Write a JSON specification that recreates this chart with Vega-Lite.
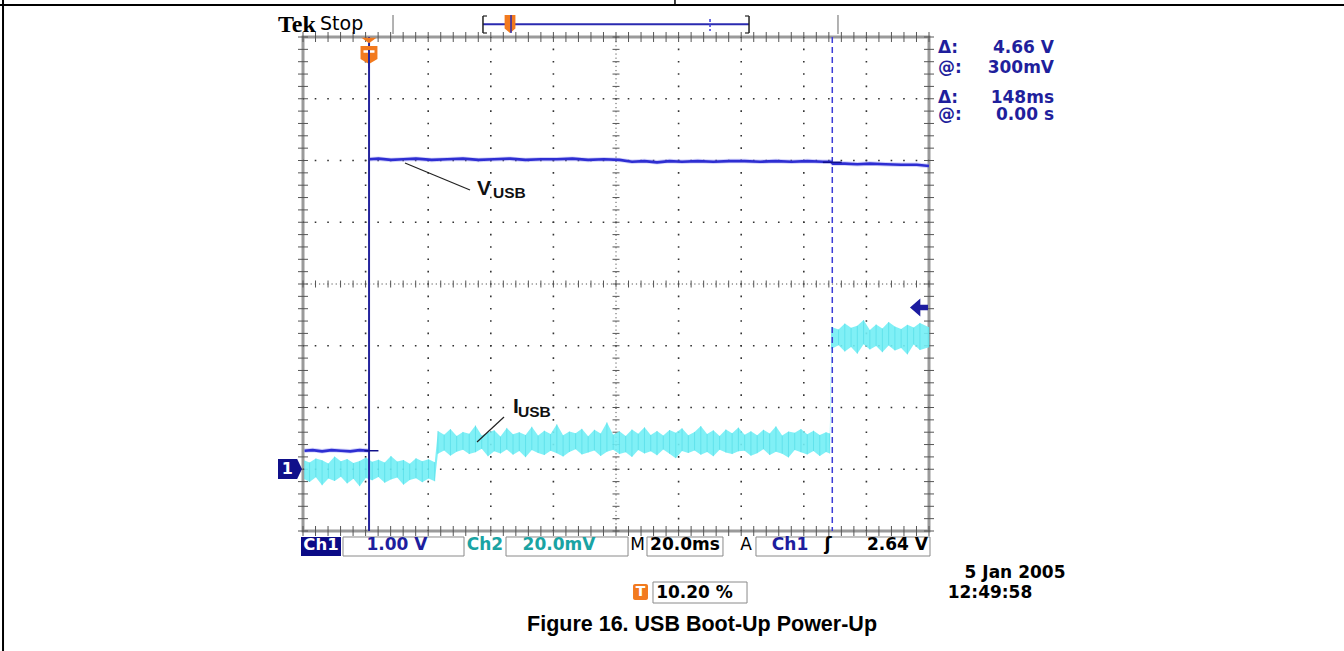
{
"$schema": "https://vega.github.io/schema/vega-lite/v6.json",
"width": 626, "height": 494,
"autosize": {"type": "none"},
"padding": {"left": 303, "top": 37, "right": 415, "bottom": 120},
"background": "white",
"config": {"view": {"stroke": "#9a9a9a", "strokeWidth": 3}, "text": {"font": "DejaVu Sans", "fontSize": 17, "fontWeight": "bold", "baseline": "middle"}},
"datasets": {
"one": [{}],
"gvx": [{"d":1},{"d":2},{"d":3},{"d":4},{"d":6},{"d":7},{"d":8},{"d":9}],
"gvy": [{"d":1},{"d":2},{"d":3},{"d":5},{"d":6},{"d":7}],
"gx": [{"d":0},{"d":0.2},{"d":0.4},{"d":0.6},{"d":0.8},{"d":1},{"d":1.2},{"d":1.4},{"d":1.6},{"d":1.8},{"d":2},{"d":2.2},{"d":2.4},{"d":2.6},{"d":2.8},{"d":3},{"d":3.2},{"d":3.4},{"d":3.6},{"d":3.8},{"d":4},{"d":4.2},{"d":4.4},{"d":4.6},{"d":4.8},{"d":5},{"d":5.2},{"d":5.4},{"d":5.6},{"d":5.8},{"d":6},{"d":6.2},{"d":6.4},{"d":6.6},{"d":6.8},{"d":7},{"d":7.2},{"d":7.4},{"d":7.6},{"d":7.8},{"d":8},{"d":8.2},{"d":8.4},{"d":8.6},{"d":8.8},{"d":9},{"d":9.2},{"d":9.4},{"d":9.6},{"d":9.8},{"d":10}],
"gy": [{"d":0},{"d":0.2},{"d":0.4},{"d":0.6},{"d":0.8},{"d":1},{"d":1.2},{"d":1.4},{"d":1.6},{"d":1.8},{"d":2},{"d":2.2},{"d":2.4},{"d":2.6},{"d":2.8},{"d":3},{"d":3.2},{"d":3.4},{"d":3.6},{"d":3.8},{"d":4},{"d":4.2},{"d":4.4},{"d":4.6},{"d":4.8},{"d":5},{"d":5.2},{"d":5.4},{"d":5.6},{"d":5.8},{"d":6},{"d":6.2},{"d":6.4},{"d":6.6},{"d":6.8},{"d":7},{"d":7.2},{"d":7.4},{"d":7.6},{"d":7.8},{"d":8}],
"ch1": [{"seg":"pre","t":-20.6,"v":0.30},{"seg":"pre","t":-18,"v":0.31},{"seg":"pre","t":-15,"v":0.29},{"seg":"pre","t":-12,"v":0.31},{"seg":"pre","t":-9,"v":0.30},{"seg":"pre","t":-6,"v":0.29},{"seg":"pre","t":-3,"v":0.31},{"seg":"pre","t":0,"v":0.30},{"seg":"post","t":0.05,"v":5.02},{"seg":"post","t":3,"v":5.03},{"seg":"post","t":7,"v":5.01},{"seg":"post","t":11,"v":5.02},{"seg":"post","t":15,"v":5.03},{"seg":"post","t":20,"v":5.01},{"seg":"post","t":25,"v":5.02},{"seg":"post","t":30,"v":5.03},{"seg":"post","t":35,"v":5.01},{"seg":"post","t":40,"v":5.02},{"seg":"post","t":45,"v":5.03},{"seg":"post","t":50,"v":5.01},{"seg":"post","t":55,"v":5.02},{"seg":"post","t":60,"v":5.02},{"seg":"post","t":65,"v":5.03},{"seg":"post","t":70,"v":5.01},{"seg":"post","t":75,"v":5.02},{"seg":"post","t":80,"v":5.01},{"seg":"post","t":84,"v":4.98},{"seg":"post","t":88,"v":4.99},{"seg":"post","t":92,"v":4.97},{"seg":"post","t":96,"v":4.99},{"seg":"post","t":100,"v":4.98},{"seg":"post","t":105,"v":4.99},{"seg":"post","t":110,"v":4.98},{"seg":"post","t":115,"v":4.99},{"seg":"post","t":120,"v":4.99},{"seg":"post","t":125,"v":4.98},{"seg":"post","t":130,"v":4.99},{"seg":"post","t":135,"v":4.98},{"seg":"post","t":140,"v":4.99},{"seg":"post","t":145,"v":4.98},{"seg":"post","t":147.6,"v":4.98},{"seg":"post","t":148.2,"v":4.95},{"seg":"post","t":152,"v":4.95},{"seg":"post","t":156,"v":4.94},{"seg":"post","t":160,"v":4.95},{"seg":"post","t":165,"v":4.94},{"seg":"post","t":170,"v":4.93},{"seg":"post","t":175,"v":4.93},{"seg":"post","t":178.9,"v":4.91}],
"ch2": [{"t":-20.6,"lo":-3.2,"hi":2.8},{"t":-19,"lo":-4.1,"hi":2.2},{"t":-17,"lo":-2.6,"hi":3.5},{"t":-15,"lo":-5.2,"hi":2.9},{"t":-13,"lo":-3.0,"hi":1.9},{"t":-11,"lo":-3.8,"hi":4.1},{"t":-9,"lo":-2.4,"hi":2.6},{"t":-7,"lo":-4.6,"hi":3.3},{"t":-5,"lo":-3.1,"hi":2.0},{"t":-3,"lo":-5.5,"hi":2.7},{"t":-1,"lo":-2.8,"hi":3.8},{"t":1,"lo":-3.6,"hi":2.4},{"t":3,"lo":-2.5,"hi":3.1},{"t":5,"lo":-4.4,"hi":2.2},{"t":7,"lo":-3.3,"hi":4.3},{"t":9,"lo":-2.7,"hi":2.5},{"t":11,"lo":-5.0,"hi":3.0},{"t":13,"lo":-3.5,"hi":1.8},{"t":15,"lo":-2.9,"hi":3.6},{"t":17,"lo":-4.2,"hi":2.6},{"t":19,"lo":-3.0,"hi":3.2},{"t":21,"lo":-3.9,"hi":2.3},
{"t":22,"lo":5.0,"hi":12.4},{"t":24,"lo":6.1,"hi":11.2},{"t":26,"lo":4.4,"hi":13.0},{"t":28,"lo":5.7,"hi":10.8},{"t":30,"lo":6.3,"hi":12.1},{"t":32,"lo":4.9,"hi":11.5},{"t":34,"lo":5.5,"hi":14.2},{"t":36,"lo":6.6,"hi":10.9},{"t":38,"lo":4.2,"hi":11.9},{"t":40,"lo":5.8,"hi":12.6},{"t":42,"lo":5.1,"hi":10.6},{"t":44,"lo":6.4,"hi":13.4},{"t":46,"lo":4.7,"hi":11.3},{"t":48,"lo":5.9,"hi":12.0},{"t":50,"lo":3.9,"hi":11.1},{"t":52,"lo":6.2,"hi":13.8},{"t":54,"lo":5.3,"hi":10.9},{"t":56,"lo":4.6,"hi":12.5},{"t":58,"lo":6.0,"hi":11.4},{"t":60,"lo":5.2,"hi":14.6},{"t":62,"lo":4.1,"hi":11.0},{"t":64,"lo":5.6,"hi":12.2},{"t":66,"lo":6.5,"hi":11.7},{"t":68,"lo":4.8,"hi":13.1},{"t":70,"lo":5.4,"hi":10.7},{"t":72,"lo":6.1,"hi":12.8},{"t":74,"lo":4.3,"hi":11.6},{"t":76,"lo":5.7,"hi":15.2},{"t":78,"lo":6.3,"hi":11.2},{"t":80,"lo":4.9,"hi":12.3},{"t":82,"lo":5.5,"hi":10.8},{"t":84,"lo":4.0,"hi":12.9},{"t":86,"lo":6.2,"hi":11.5},{"t":88,"lo":5.1,"hi":13.6},{"t":90,"lo":5.8,"hi":11.1},{"t":92,"lo":4.5,"hi":12.4},{"t":94,"lo":6.4,"hi":10.9},{"t":96,"lo":5.0,"hi":12.7},{"t":98,"lo":3.6,"hi":11.8},{"t":100,"lo":5.9,"hi":13.3},{"t":102,"lo":5.3,"hi":11.0},{"t":104,"lo":6.1,"hi":12.1},{"t":106,"lo":4.7,"hi":14.0},{"t":108,"lo":5.6,"hi":11.4},{"t":110,"lo":4.2,"hi":12.6},{"t":112,"lo":6.3,"hi":10.8},{"t":114,"lo":5.4,"hi":12.9},{"t":116,"lo":4.9,"hi":11.7},{"t":118,"lo":5.8,"hi":13.5},{"t":120,"lo":6.0,"hi":11.2},{"t":122,"lo":4.4,"hi":12.3},{"t":124,"lo":5.2,"hi":11.0},{"t":126,"lo":6.5,"hi":12.8},{"t":128,"lo":4.6,"hi":11.6},{"t":130,"lo":5.7,"hi":13.9},{"t":132,"lo":5.0,"hi":10.9},{"t":134,"lo":3.8,"hi":12.2},{"t":136,"lo":6.2,"hi":11.8},{"t":138,"lo":5.5,"hi":13.0},{"t":140,"lo":4.8,"hi":11.3},{"t":142,"lo":5.9,"hi":12.5},{"t":144,"lo":4.3,"hi":11.1},{"t":146,"lo":5.6,"hi":12.0},{"t":147.2,"lo":5.1,"hi":11.6},
{"t":147.8,"lo":39.0,"hi":46.1},{"t":150,"lo":40.2,"hi":45.3},{"t":152,"lo":38.1,"hi":47.2},{"t":154,"lo":39.6,"hi":45.8},{"t":156,"lo":37.4,"hi":46.5},{"t":158,"lo":40.5,"hi":48.3},{"t":160,"lo":38.8,"hi":45.1},{"t":162,"lo":39.9,"hi":46.9},{"t":164,"lo":37.9,"hi":45.6},{"t":166,"lo":40.1,"hi":47.7},{"t":168,"lo":38.5,"hi":46.2},{"t":170,"lo":39.3,"hi":45.4},{"t":172,"lo":37.2,"hi":46.8},{"t":174,"lo":40.4,"hi":45.9},{"t":176,"lo":38.6,"hi":47.4},{"t":178.9,"lo":39.5,"hi":46.0}]
},
"resolve": {"scale": {"x": "independent", "y": "independent"}},
"layer": [
{"layer": [
 {"data": {"name": "one"}, "mark": {"type": "rule", "color": "#555", "strokeWidth": 1, "strokeDash": [1.2, 2.92]}, "encoding": {"x": {"datum": 5, "scale": {"domain": [0, 10], "nice": false, "zero": false}, "axis": null}}},
 {"data": {"name": "one"}, "mark": {"type": "rule", "color": "#555", "strokeWidth": 1, "strokeDash": [1.2, 2.97]}, "encoding": {"y": {"datum": 4, "scale": {"domain": [0, 8], "nice": false, "zero": false}, "axis": null}}},
 {"data": {"name": "gvx"}, "mark": {"type": "rule", "color": "#333", "strokeWidth": 1.6, "strokeDash": [1.6, 10.75], "strokeDashOffset": 0.8}, "encoding": {"x": {"field": "d", "type": "quantitative", "axis": null}}},
 {"data": {"name": "gvy"}, "mark": {"type": "rule", "color": "#333", "strokeWidth": 1.6, "strokeDash": [1.6, 10.92], "strokeDashOffset": 0.8}, "encoding": {"y": {"field": "d", "type": "quantitative", "axis": null}}},
 {"data": {"name": "gx"}, "mark": {"type": "tick", "orient": "vertical", "size": 10, "thickness": 1, "color": "#555", "opacity": 1}, "encoding": {"x": {"field": "d", "type": "quantitative", "axis": null}, "y": {"datum": 0, "axis": null}}},
 {"data": {"name": "gx"}, "mark": {"type": "tick", "orient": "vertical", "size": 10, "thickness": 1, "color": "#555", "opacity": 1}, "encoding": {"x": {"field": "d", "type": "quantitative", "axis": null}, "y": {"datum": 8, "axis": null}}},
 {"data": {"name": "gx"}, "mark": {"type": "tick", "orient": "vertical", "size": 7, "thickness": 1, "color": "#555", "opacity": 1}, "encoding": {"x": {"field": "d", "type": "quantitative", "axis": null}, "y": {"datum": 4, "axis": null}}},
 {"data": {"name": "gy"}, "mark": {"type": "tick", "orient": "horizontal", "size": 10, "thickness": 1, "color": "#555", "opacity": 1}, "encoding": {"y": {"field": "d", "type": "quantitative", "axis": null}, "x": {"datum": 0, "axis": null}}},
 {"data": {"name": "gy"}, "mark": {"type": "tick", "orient": "horizontal", "size": 10, "thickness": 1, "color": "#555", "opacity": 1}, "encoding": {"y": {"field": "d", "type": "quantitative", "axis": null}, "x": {"datum": 10, "axis": null}}},
 {"data": {"name": "gy"}, "mark": {"type": "tick", "orient": "horizontal", "size": 7, "thickness": 1, "color": "#555", "opacity": 1}, "encoding": {"y": {"field": "d", "type": "quantitative", "axis": null}, "x": {"datum": 5, "axis": null}}}
]},
{"data": {"name": "ch2"}, "layer": [
 {"mark": {"type": "area", "color": "#72eef5", "opacity": 0.9}, "encoding": {"x": {"field": "t", "type": "quantitative", "scale": {"domain": [-21.1, 178.9], "nice": false, "zero": false}, "axis": null}, "y": {"field": "lo", "type": "quantitative", "scale": {"domain": [-20, 140], "nice": false, "zero": false}, "axis": null}, "y2": {"field": "hi"}}},
 {"mark": {"type": "rule", "color": "#3cd2e0", "strokeWidth": 1, "opacity": 0.45}, "encoding": {"x": {"field": "t", "type": "quantitative", "axis": null}, "y": {"field": "lo", "type": "quantitative", "axis": null}, "y2": {"field": "hi"}}}
]},
{"layer": [
 {"data": {"name": "ch1"}, "mark": {"type": "line", "color": "#8080f0", "strokeWidth": 4.5, "opacity": 0.35}, "encoding": {"x": {"field": "t", "type": "quantitative", "scale": {"domain": [-21.1, 178.9], "nice": false, "zero": false}, "axis": null}, "y": {"field": "v", "type": "quantitative", "scale": {"domain": [-1, 7], "nice": false, "zero": false}, "axis": null}, "detail": {"field": "seg", "type": "nominal"}}},
 {"data": {"name": "ch1"}, "mark": {"type": "line", "color": "#2e2ed2", "strokeWidth": 2.6}, "encoding": {"x": {"field": "t", "type": "quantitative", "axis": null}, "y": {"field": "v", "type": "quantitative", "axis": null}, "detail": {"field": "seg", "type": "nominal"}}},
 {"data": {"name": "one"}, "mark": {"type": "rule", "color": "#24249c", "strokeWidth": 2}, "encoding": {"x": {"datum": 0, "axis": null}}},
 {"data": {"name": "one"}, "mark": {"type": "rule", "color": "#3c3cd6", "strokeWidth": 1.5, "strokeDash": [6, 4]}, "encoding": {"x": {"datum": 148, "axis": null}}},
 {"data": {"name": "one"}, "mark": {"type": "rule", "color": "#10108a", "strokeWidth": 1.5}, "encoding": {"x": {"datum": -1.5, "axis": null}, "x2": {"datum": 3}, "y": {"datum": 0.3, "axis": null}}},
 {"data": {"name": "one"}, "mark": {"type": "rule", "color": "#10108a", "strokeWidth": 1.5}, "encoding": {"x": {"datum": 145, "axis": null}, "x2": {"datum": 151}, "y": {"datum": 4.97, "axis": null}}}
]},
{"data": {"name": "one"}, "layer": [
 {"mark": {"type": "rule", "color": "#000", "strokeWidth": 2}, "encoding": {"x": {"datum": -4.9, "scale": {"domain": [0, 10], "nice": false, "zero": false}, "axis": null}, "x2": {"datum": 17}, "y": {"datum": 8.518, "scale": {"domain": [0, 8], "nice": false, "zero": false}, "axis": null}}},
 {"mark": {"type": "rule", "color": "#000", "strokeWidth": 2}, "encoding": {"x": {"datum": -4.792, "axis": null}, "y": {"datum": 8.62, "axis": null}, "y2": {"datum": -2.0}}},
 {"mark": {"type": "rule", "color": "#000", "strokeWidth": 1.5}, "encoding": {"x": {"datum": 5.942, "axis": null}, "y": {"datum": 8.62, "axis": null}, "y2": {"datum": 8.518}}},
 {"mark": {"type": "rule", "color": "#999", "strokeWidth": 1.5}, "encoding": {"x": {"datum": 1.438, "axis": null}, "y": {"datum": 8.356, "axis": null}, "y2": {"datum": 8.049}}},
 {"mark": {"type": "rule", "color": "#999", "strokeWidth": 1.5}, "encoding": {"x": {"datum": 8.546, "axis": null}, "y": {"datum": 8.356, "axis": null}, "y2": {"datum": 8.049}}},
 {"mark": {"type": "rule", "color": "#2a2ab0", "strokeWidth": 2}, "encoding": {"x": {"datum": 2.875, "axis": null}, "x2": {"datum": 7.125}, "y": {"datum": 8.206, "axis": null}}},
 {"mark": {"type": "rule", "color": "#222", "strokeWidth": 1.5}, "encoding": {"x": {"datum": 2.875, "axis": null}, "y": {"datum": 8.340, "axis": null}, "y2": {"datum": 8.065}}},
 {"mark": {"type": "rule", "color": "#222", "strokeWidth": 1.5}, "encoding": {"x": {"datum": 7.125, "axis": null}, "y": {"datum": 8.340, "axis": null}, "y2": {"datum": 8.065}}},
 {"mark": {"type": "rule", "color": "#222", "strokeWidth": 1.2}, "encoding": {"x": {"datum": 2.875, "axis": null}, "x2": {"datum": 2.939}, "y": {"datum": 8.340, "axis": null}}},
 {"mark": {"type": "rule", "color": "#222", "strokeWidth": 1.2}, "encoding": {"x": {"datum": 2.875, "axis": null}, "x2": {"datum": 2.939}, "y": {"datum": 8.065, "axis": null}}},
 {"mark": {"type": "rule", "color": "#222", "strokeWidth": 1.2}, "encoding": {"x": {"datum": 7.061, "axis": null}, "x2": {"datum": 7.125}, "y": {"datum": 8.340, "axis": null}}},
 {"mark": {"type": "rule", "color": "#222", "strokeWidth": 1.2}, "encoding": {"x": {"datum": 7.061, "axis": null}, "x2": {"datum": 7.125}, "y": {"datum": 8.065, "axis": null}}},
 {"mark": {"type": "rule", "color": "#3c3cd6", "strokeWidth": 1.5, "strokeDash": [3, 2]}, "encoding": {"x": {"datum": 6.502, "axis": null}, "y": {"datum": 8.291, "axis": null}, "y2": {"datum": 8.097}}},
 {"mark": {"type": "point", "shape": "M-0.6,-1H0.6V0.5L0,1L-0.6,0.5Z", "size": 324, "filled": true, "color": "#f27a1e", "opacity": 1}, "encoding": {"x": {"datum": 3.307, "axis": null}, "y": {"datum": 8.211, "axis": null}}},
 {"mark": {"type": "rule", "color": "#2a2ab0", "strokeWidth": 1.5}, "encoding": {"x": {"datum": 3.323, "axis": null}, "y": {"datum": 8.356, "axis": null}, "y2": {"datum": 8.065}}},
 {"mark": {"type": "text", "text": "Tek", "font": "Liberation Serif", "fontWeight": "bold", "fontSize": 24, "align": "left", "baseline": "alphabetic", "color": "#000"}, "encoding": {"x": {"datum": -0.399, "axis": null}, "y": {"datum": 8.081, "axis": null}}},
 {"mark": {"type": "text", "text": "Stop", "fontSize": 19, "fontWeight": "normal", "align": "left", "baseline": "alphabetic", "color": "#000"}, "encoding": {"x": {"datum": 0.272, "axis": null}, "y": {"datum": 8.113, "axis": null}}},
 {"mark": {"type": "point", "shape": "M-1,-0.36H1L0,0.36Z", "size": 225, "filled": true, "color": "#f27a1e", "opacity": 1}, "encoding": {"x": {"datum": 1.054, "axis": null}, "y": {"datum": 7.943, "axis": null}}},
 {"mark": {"type": "point", "shape": "M-0.94,-1H0.94V0.45L0,1L-0.94,0.45Z", "size": 324, "filled": true, "color": "#f27a1e", "opacity": 1}, "encoding": {"x": {"datum": 1.054, "axis": null}, "y": {"datum": 7.709, "axis": null}}},
 {"mark": {"type": "rule", "color": "#ffffff", "strokeWidth": 2.5}, "encoding": {"x": {"datum": 0.966, "axis": null}, "x2": {"datum": 1.142}, "y": {"datum": 7.765, "axis": null}}},
 {"mark": {"type": "rule", "color": "#24249c", "strokeWidth": 2}, "encoding": {"x": {"datum": 1.054, "axis": null}, "y": {"datum": 7.79, "axis": null}, "y2": {"datum": 7.5}}},
 {"mark": {"type": "text", "text": "Δ:", "align": "left", "color": "#1f1f9c"}, "encoding": {"x": {"datum": 10.144, "axis": null}, "y": {"datum": 7.822, "axis": null}}},
 {"mark": {"type": "text", "text": "@:", "align": "left", "color": "#1f1f9c"}, "encoding": {"x": {"datum": 10.144, "axis": null}, "y": {"datum": 7.506, "axis": null}}},
 {"mark": {"type": "text", "text": "Δ:", "align": "left", "color": "#1f1f9c"}, "encoding": {"x": {"datum": 10.144, "axis": null}, "y": {"datum": 7.020, "axis": null}}},
 {"mark": {"type": "text", "text": "@:", "align": "left", "color": "#1f1f9c"}, "encoding": {"x": {"datum": 10.144, "axis": null}, "y": {"datum": 6.737, "axis": null}}},
 {"mark": {"type": "text", "text": "4.66 V", "align": "right", "color": "#1f1f9c"}, "encoding": {"x": {"datum": 11.997, "axis": null}, "y": {"datum": 7.822, "axis": null}}},
 {"mark": {"type": "text", "text": "300mV", "align": "right", "color": "#1f1f9c"}, "encoding": {"x": {"datum": 11.997, "axis": null}, "y": {"datum": 7.506, "axis": null}}},
 {"mark": {"type": "text", "text": "148ms", "align": "right", "color": "#1f1f9c"}, "encoding": {"x": {"datum": 11.997, "axis": null}, "y": {"datum": 7.020, "axis": null}}},
 {"mark": {"type": "text", "text": "0.00 s", "align": "right", "color": "#1f1f9c"}, "encoding": {"x": {"datum": 11.997, "axis": null}, "y": {"datum": 6.737, "axis": null}}},
 {"mark": {"type": "point", "shape": "M-1,0L0.15,-1V-0.3H1V0.3H0.15V1Z", "size": 324, "filled": true, "color": "#1c1ca0", "opacity": 1}, "encoding": {"x": {"datum": 9.84, "axis": null}, "y": {"datum": 3.619, "axis": null}}},
 {"mark": {"type": "point", "shape": "M-1,-0.83H0.6L1,0L0.6,0.83H-1Z", "size": 576, "filled": true, "color": "#10108a", "opacity": 1}, "encoding": {"x": {"datum": -0.208, "axis": null}, "y": {"datum": 1.004, "axis": null}}},
 {"mark": {"type": "text", "text": "1", "fontSize": 16, "color": "#ffffff"}, "encoding": {"x": {"datum": -0.25, "axis": null}, "y": {"datum": 1.004, "axis": null}}},
 {"mark": {"type": "rule", "color": "#222", "strokeWidth": 1.2}, "encoding": {"x": {"datum": 1.629, "axis": null}, "x2": {"datum": 2.668}, "y": {"datum": 5.960, "axis": null}, "y2": {"datum": 5.522}}},
 {"mark": {"type": "text", "text": "V", "font": "Liberation Sans", "fontSize": 21, "align": "left", "baseline": "alphabetic", "color": "#111"}, "encoding": {"x": {"datum": 2.780, "axis": null}, "y": {"datum": 5.441, "axis": null}}},
 {"mark": {"type": "text", "text": "USB", "font": "Liberation Sans", "fontSize": 15.5, "align": "left", "baseline": "alphabetic", "color": "#111"}, "encoding": {"x": {"datum": 3.035, "axis": null}, "y": {"datum": 5.393, "axis": null}}},
 {"mark": {"type": "rule", "color": "#222", "strokeWidth": 1.2}, "encoding": {"x": {"datum": 3.211, "axis": null}, "x2": {"datum": 2.780}, "y": {"datum": 1.846, "axis": null}, "y2": {"datum": 1.441}}},
 {"mark": {"type": "text", "text": "I", "font": "Liberation Sans", "fontSize": 21, "align": "left", "baseline": "alphabetic", "color": "#111"}, "encoding": {"x": {"datum": 3.355, "axis": null}, "y": {"datum": 1.911, "axis": null}}},
 {"mark": {"type": "text", "text": "USB", "font": "Liberation Sans", "fontSize": 15.5, "align": "left", "baseline": "alphabetic", "color": "#111"}, "encoding": {"x": {"datum": 3.435, "axis": null}, "y": {"datum": 1.846, "axis": null}}},
 {"mark": {"type": "rect", "fill": "#0b0b86"}, "encoding": {"x": {"datum": -0.032, "axis": null}, "x2": {"datum": 0.607}, "y": {"datum": -0.097, "axis": null}, "y2": {"datum": -0.405}}},
 {"mark": {"type": "rect", "fill": "#ffffff", "stroke": "#8a8a8a", "strokeWidth": 1}, "encoding": {"x": {"datum": 0.639, "axis": null}, "x2": {"datum": 2.572}, "y": {"datum": -0.097, "axis": null}, "y2": {"datum": -0.405}}},
 {"mark": {"type": "rect", "fill": "#ffffff", "stroke": "#8a8a8a", "strokeWidth": 1}, "encoding": {"x": {"datum": 3.243, "axis": null}, "x2": {"datum": 5.192}, "y": {"datum": -0.097, "axis": null}, "y2": {"datum": -0.405}}},
 {"mark": {"type": "rect", "fill": "#ffffff", "stroke": "#8a8a8a", "strokeWidth": 1}, "encoding": {"x": {"datum": 5.495, "axis": null}, "x2": {"datum": 6.709}, "y": {"datum": -0.097, "axis": null}, "y2": {"datum": -0.405}}},
 {"mark": {"type": "rect", "fill": "#ffffff", "stroke": "#8a8a8a", "strokeWidth": 1}, "encoding": {"x": {"datum": 7.236, "axis": null}, "x2": {"datum": 10.016}, "y": {"datum": -0.097, "axis": null}, "y2": {"datum": -0.405}}},
 {"mark": {"type": "rect", "fill": "#ffffff", "stroke": "#8a8a8a", "strokeWidth": 1}, "encoding": {"x": {"datum": 5.591, "axis": null}, "x2": {"datum": 7.093}, "y": {"datum": -0.826, "axis": null}, "y2": {"datum": -1.166}}},
 {"mark": {"type": "rect", "fill": "#f27a1e", "cornerRadius": 2}, "encoding": {"x": {"datum": 5.272, "axis": null}, "x2": {"datum": 5.511}, "y": {"datum": -0.858, "axis": null}, "y2": {"datum": -1.117}}},
 {"mark": {"type": "text", "text": "T", "fontSize": 14, "color": "#ffffff"}, "encoding": {"x": {"datum": 5.391, "axis": null}, "y": {"datum": -0.988, "axis": null}}},
 {"mark": {"type": "text", "text": "Ch1", "fontSize": 16.5, "color": "#ffffff"}, "encoding": {"x": {"datum": 0.288, "axis": null}, "y": {"datum": -0.227, "axis": null}}},
 {"mark": {"type": "text", "text": "1.00 V", "color": "#1e1e9e"}, "encoding": {"x": {"datum": 1.502, "axis": null}, "y": {"datum": -0.227, "axis": null}}},
 {"mark": {"type": "text", "text": "Ch2", "color": "#1aa3a3"}, "encoding": {"x": {"datum": 2.907, "axis": null}, "y": {"datum": -0.227, "axis": null}}},
 {"mark": {"type": "text", "text": "20.0mV", "color": "#1aa3a3"}, "encoding": {"x": {"datum": 4.089, "axis": null}, "y": {"datum": -0.227, "axis": null}}},
 {"mark": {"type": "text", "text": "M", "fontWeight": "normal", "color": "#000"}, "encoding": {"x": {"datum": 5.343, "axis": null}, "y": {"datum": -0.227, "axis": null}}},
 {"mark": {"type": "text", "text": "20.0ms", "color": "#000"}, "encoding": {"x": {"datum": 6.102, "axis": null}, "y": {"datum": -0.227, "axis": null}}},
 {"mark": {"type": "text", "text": "A", "fontWeight": "normal", "color": "#000"}, "encoding": {"x": {"datum": 7.077, "axis": null}, "y": {"datum": -0.227, "axis": null}}},
 {"mark": {"type": "text", "text": "Ch1", "color": "#1e1e9e"}, "encoding": {"x": {"datum": 7.780, "axis": null}, "y": {"datum": -0.227, "axis": null}}},
 {"mark": {"type": "text", "text": "ʃ", "color": "#000"}, "encoding": {"x": {"datum": 8.387, "axis": null}, "y": {"datum": -0.227, "axis": null}}},
 {"mark": {"type": "text", "text": "2.64 V", "align": "right", "color": "#000"}, "encoding": {"x": {"datum": 9.984, "axis": null}, "y": {"datum": -0.227, "axis": null}}},
 {"mark": {"type": "text", "text": "10.20 %", "color": "#000"}, "encoding": {"x": {"datum": 6.254, "axis": null}, "y": {"datum": -0.996, "axis": null}}},
 {"mark": {"type": "text", "text": "5 Jan  2005", "color": "#000"}, "encoding": {"x": {"datum": 11.374, "axis": null}, "y": {"datum": -0.688, "axis": null}}},
 {"mark": {"type": "text", "text": "12:49:58", "color": "#000"}, "encoding": {"x": {"datum": 10.974, "axis": null}, "y": {"datum": -0.996, "axis": null}}},
 {"mark": {"type": "text", "text": "Figure 16. USB Boot-Up Power-Up", "font": "Liberation Sans", "fontSize": 21.5, "color": "#000"}, "encoding": {"x": {"datum": 6.374, "axis": null}, "y": {"datum": -1.522, "axis": null}}}
]}
]
}
